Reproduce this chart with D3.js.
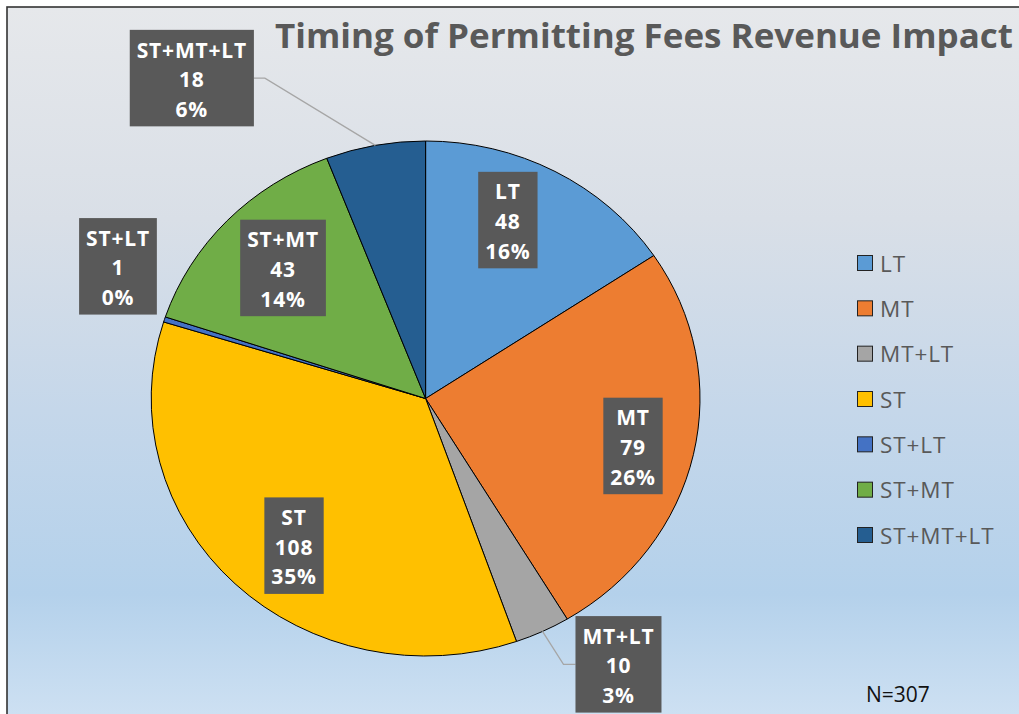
<!DOCTYPE html>
<html>
<head>
<meta charset="utf-8">
<script src="https://cdn.jsdelivr.net/npm/d3@7"></script>
<style>
  html, body { margin: 0; padding: 0; background: #fff; }
  svg { display: block; }
</style>
</head>
<body>
<svg width="1019" height="714"></svg>
<script>
// data
const categories = ["LT", "MT", "MT+LT", "ST", "ST+LT", "ST+MT", "ST+MT+LT"];
const counts = [48, 79, 10, 108, 1, 43, 18];
const sliceColors = ["#5b9bd5", "#ed7d31", "#a5a5a5", "#ffc000", "#4472c4", "#70ad47", "#255e91"];
const titleText = "Timing of Permitting Fees Revenue Impact";
const noteText = "N=307";

// where each data label sits: [angle in degrees from 12 o'clock, radius as share of pie radius]
const labelPolar = {
  "LT": [23.4, 0.755],
  "MT": [103.7, 0.778],
  "MT+LT": [145.75, 1.249],
  "ST": [220, 0.746],
  "ST+LT": [294.6, 1.233],
  "ST+MT": [314.3, 0.726],
  "ST+MT+LT": [325.6, 1.508]
};

const svg = d3.select("svg");
const W = 1019, H = 714;
const cx = 425.6, cy = 398.5, R = 257.5, sx = 1.0656;
const total = d3.sum(counts);
const data = categories.map((c, i) => ({ name: c, value: counts[i], color: sliceColors[i] }));

// background
const defs = svg.append("defs");
const grad = defs.append("linearGradient")
  .attr("id", "bg").attr("gradientUnits", "userSpaceOnUse")
  .attr("x1", 0).attr("y1", 7).attr("x2", 0).attr("y2", H);
[[0, "#e6e8eb"], [0.3, "#d9dfe7"], [0.57, "#c5d7ea"], [0.83, "#b4d1eb"], [1, "#cde0f2"]]
  .forEach(s => grad.append("stop").attr("offset", s[0]).attr("stop-color", s[1]));

svg.append("rect").attr("width", W).attr("height", H).attr("fill", "#fff");
svg.append("rect")
  .attr("x", 7).attr("y", 7).attr("width", W + 20).attr("height", H + 20)
  .attr("fill", "url(#bg)")
  .attr("stroke", "#333").attr("stroke-width", 1.6);

// title
svg.append("text")
  .attr("x", 275).attr("y", 48)
  .attr("textLength", 738).attr("lengthAdjust", "spacingAndGlyphs")
  .attr("font-family", "'Open Sans', sans-serif").attr("font-weight", 700)
  .attr("font-size", 34).attr("fill", "#595959")
  .text(titleText);

// pie
const pie = d3.pie().value(d => d.value).sort(null);
const arcs = pie(data);
const arc = d3.arc().innerRadius(0).outerRadius(R);

const pieG = svg.append("g").attr("transform", `translate(${cx},${cy}) scale(${sx},1)`);
pieG.selectAll("path.slice").data(arcs).enter().append("path")
  .attr("class", "slice")
  .attr("d", arc)
  .attr("fill", d => d.data.color)
  .attr("stroke", "#000").attr("stroke-width", 1)
  .attr("vector-effect", "non-scaling-stroke");

// helper: polar point on the stretched pie
function onPie(angleDeg, r) {
  const p = d3.pointRadial(angleDeg * Math.PI / 180, r);
  return [cx + p[0] * sx, cy + p[1]];
}

// data labels
const labelG = svg.append("g");
const lineH = 29.6, boxH = 96.5, pad = 7;
arcs.forEach(a => {
  const name = a.data.name;
  const lines = [name, String(a.data.value), Math.round(a.data.value / total * 100) + "%"];
  const pos = onPie(labelPolar[name][0], R * labelPolar[name][1]);

  const g = labelG.append("g");
  const box = g.append("rect").attr("fill", "#595959");
  const texts = g.selectAll("text").data(lines).enter().append("text")
    .attr("x", pos[0])
    .attr("y", (d, i) => pos[1] + 9 + (i - 1) * lineH)
    .attr("text-anchor", "middle")
    .attr("font-family", "'Open Sans', sans-serif").attr("font-weight", 700)
    .attr("font-size", 21).attr("letter-spacing", 0.8).attr("fill", "#fff")
    .text(d => d);
  let wMax = 0;
  texts.each(function() { wMax = Math.max(wMax, this.getComputedTextLength()); });
  const bw = wMax + pad * 2;
  const bx = pos[0] - bw / 2, by = pos[1] - boxH / 2;
  box.attr("x", bx).attr("y", by).attr("width", bw).attr("height", boxH);

  // leader line when an outside label sits away from its slice
  if (labelPolar[name][1] <= 1) return;
  const mid = (a.startAngle + a.endAngle) / 2 * 180 / Math.PI;
  const edge = onPie(mid, R);
  const ddx = Math.max(bx - edge[0], 0, edge[0] - (bx + bw));
  const ddy = Math.max(by - edge[1], 0, edge[1] - (by + boxH));
  if (Math.hypot(ddx, ddy) > 15) {
    const right = edge[0] < bx;
    const sideX = right ? bx : bx + bw;
    const elbowX = right ? sideX - 12 : sideX + 11;
    labelG.insert("path", ":first-child")
      .attr("d", d3.line()([edge, [elbowX, pos[1]], [sideX, pos[1]]]))
      .attr("fill", "none").attr("stroke", "#a6a6a6").attr("stroke-width", 1.3);
  }
});

// legend
const legend = svg.append("g").attr("transform", "translate(857,263)");
const rowY = d3.scalePoint().domain(categories).range([0, 272]);
const rows = legend.selectAll("g").data(data).enter().append("g")
  .attr("transform", d => `translate(0,${rowY(d.name)})`);
rows.append("rect")
  .attr("x", 0.5).attr("y", -7.5).attr("width", 15).attr("height", 15)
  .attr("fill", d => d.color).attr("stroke", "#222").attr("stroke-width", 1);
rows.append("text")
  .attr("x", 23).attr("y", 8.5)
  .attr("font-family", "'Open Sans', sans-serif").attr("font-size", 22.5)
  .attr("letter-spacing", 0.9)
  .attr("fill", "#595959")
  .text(d => d.name);

// sample size note
svg.append("text")
  .attr("x", 866).attr("y", 702)
  .attr("font-family", "'Open Sans', sans-serif").attr("font-size", 21)
  .attr("fill", "#111")
  .text(noteText);
</script>
</body>
</html>
